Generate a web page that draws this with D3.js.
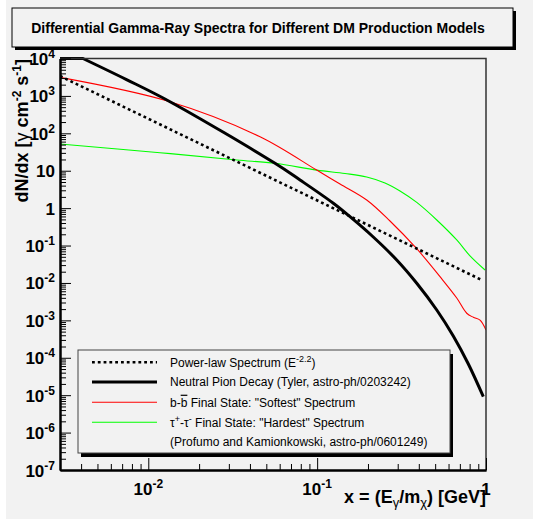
<!DOCTYPE html>
<html>
<head>
<meta charset="utf-8">
<script src="https://cdn.jsdelivr.net/npm/d3@7"></script>
<style>
  html, body { margin: 0; padding: 0; background: #ffffff; }
  svg { display: block; font-family: "Liberation Sans", Arial, Helvetica, sans-serif; }
</style>
</head>
<body>
<svg id="chart" width="533" height="519"></svg>
<script>
// ---- data (x = E_gamma / m_chi, y = dN/dx) ----
const powerLawX = [0.003, 0.943];
const powerLawY = [3400, 0.012];

const pionX = [0.003, 0.0041, 0.00743, 0.01345, 0.0563, 0.0792, 0.1247, 0.1565, 0.215, 0.296, 0.389, 0.511, 0.640, 0.786, 0.964];
const pionY = [20000, 10000, 2730, 700, 15.8, 5.65, 1.35, 0.59, 0.169, 0.0411, 0.0098, 0.00189, 3.82e-4, 6.8e-5, 9.1e-6];

const bbX = [0.003, 0.01345, 0.0459, 0.0994, 0.1366, 0.1966, 0.270, 0.390, 0.534, 0.671, 0.769, 0.841, 0.922, 1.0];
const bbY = [3140, 700, 81, 10.4, 4.42, 1.65, 0.453, 0.081, 0.0147, 0.00396, 0.00155, 0.00121, 0.00102, 5.5e-4];

const tauX = [0.003, 0.01173, 0.0334, 0.0563, 0.0994, 0.1462, 0.1966, 0.2522, 0.3095, 0.389, 0.511, 0.671, 0.804, 0.987];
const tauY = [51.8, 30.3, 19.4, 15.8, 10.4, 8.43, 6.79, 4.70, 2.87, 1.42, 0.482, 0.141, 0.053, 0.0222];

const xDecades = [-2, -1, 0];
const yDecades = [-7, -6, -5, -4, -3, -2, -1, 0, 1, 2, 3, 4];
const minorMults = [2, 3, 4, 5, 6, 7, 8, 9];

const titleText = "Differential Gamma-Ray Spectra for Different DM Production Models";
const legendLabels = [
  ["Power-law Spectrum (E", {sup: "-2.2"}, ")"],
  ["Neutral Pion Decay (Tyler, astro-ph/0203242)"],
  ["b-", {bar: "b"}, " Final State: \"Softest\" Spectrum"],
  ["\u03C4", {sup: "+"}, "-\u03C4", {sup: "-"}, " Final State: \"Hardest\" Spectrum"],
  ["(Profumo and Kamionkowski, astro-ph/0601249)"]
];

// ---- layout ----
const W = 533, H = 519;
const frame = {left: 60, right: 486, top: 58.5, bottom: 470};

const svg = d3.select("#chart");

// canvas background
svg.append("rect").attr("x", 6).attr("y", 0).attr("width", W - 6).attr("height", H).attr("fill", "#f2f2f2");

const x = d3.scaleLog().domain([0.003, 1]).range([frame.left, frame.right]);
const y = d3.scaleLog().domain([1e-7, 1e4]).range([frame.bottom, frame.top]).clamp(true);

// title box with drop shadow
const tb = {x: 12, y: 8, w: 501, h: 39};
svg.append("rect").attr("x", tb.x + 3).attr("y", tb.y + 3).attr("width", tb.w).attr("height", tb.h).attr("fill", "#000");
svg.append("rect").attr("x", tb.x).attr("y", tb.y).attr("width", tb.w).attr("height", tb.h)
  .attr("fill", "#f2f2f2").attr("stroke", "#000").attr("stroke-width", 1);
svg.append("text").attr("x", 258).attr("y", 33).attr("text-anchor", "middle")
  .attr("font-size", 14).attr("font-weight", "bold").attr("fill", "#000").text(titleText);

// clip region for the curves
svg.append("clipPath").attr("id", "plotClip").append("rect")
  .attr("x", frame.left).attr("y", frame.top - 2)
  .attr("width", frame.right - frame.left).attr("height", frame.bottom - frame.top + 2);

const plot = svg.append("g").attr("clip-path", "url(#plotClip)");

const line = d3.line().x(d => x(d[0])).y(d => y(d[1])).curve(d3.curveCatmullRom.alpha(0.5));
const straight = d3.line().x(d => x(d[0])).y(d => y(d[1]));
const zip = (a, b) => a.map((v, i) => [v, b[i]]);

plot.append("path").datum(zip(tauX, tauY)).attr("d", line)
  .attr("fill", "none").attr("stroke", "#00ff00").attr("stroke-width", 1.1);
plot.append("path").datum(zip(bbX, bbY)).attr("d", line)
  .attr("fill", "none").attr("stroke", "#ff0000").attr("stroke-width", 1.1);
plot.append("path").datum(zip(powerLawX, powerLawY)).attr("d", straight)
  .attr("fill", "none").attr("stroke", "#000").attr("stroke-width", 2.6).attr("stroke-dasharray", "2.8,3");

// pion curve: the part above the frame runs along the top edge, the rest is smoothed
const pionPts = zip(pionX, pionY);
const pionPath = straight(pionPts.slice(0, 2)) + line(pionPts.slice(1)).replace(/^M/, "L");
plot.append("path").attr("d", pionPath)
  .attr("fill", "none").attr("stroke", "#000").attr("stroke-width", 3).attr("stroke-linejoin", "miter");

// frame top/right
svg.append("path")
  .attr("d", `M${frame.left},${frame.top}H${frame.right}V${frame.bottom}`)
  .attr("fill", "none").attr("stroke", "#333").attr("stroke-width", 1.5);

// ---- axes ----
const yMinor = [];
yDecades.forEach(e => { if (e < 4) minorMults.forEach(m => yMinor.push(m * Math.pow(10, e))); });
const yMajor = yDecades.map(e => Math.pow(10, e));

const xMinor = [];
[-3, -2, -1].forEach(e => minorMults.forEach(m => {
  const v = m * Math.pow(10, e);
  if (v >= 0.003 && v < 1) xMinor.push(v);
}));
const xMajor = xDecades.map(e => Math.pow(10, e));

function styleAxis(g) {
  g.selectAll("text").remove();
  g.selectAll("line").attr("stroke", "#000").attr("stroke-width", 1);
  g.select(".domain").attr("stroke", "#000").attr("stroke-width", 2);
}

svg.append("g").attr("transform", `translate(${frame.left},0)`)
  .call(d3.axisRight(y).tickValues(yMinor).tickSize(6).tickSizeOuter(0).tickFormat(""))
  .call(styleAxis);
svg.append("g").attr("transform", `translate(${frame.left},0)`)
  .call(d3.axisRight(y).tickValues(yMajor).tickSize(11).tickSizeOuter(0).tickFormat(""))
  .call(styleAxis);
svg.append("g").attr("transform", `translate(0,${frame.bottom})`)
  .call(d3.axisTop(x).tickValues(xMinor).tickSize(6).tickSizeOuter(0).tickFormat(""))
  .call(styleAxis);
svg.append("g").attr("transform", `translate(0,${frame.bottom})`)
  .call(d3.axisTop(x).tickValues(xMajor).tickSize(12).tickSizeOuter(0).tickFormat(""))
  .call(styleAxis);

// power-of-ten labels
function powLabel(sel, e) {
  if (e === 0) { sel.append("tspan").text("1"); return; }
  sel.append("tspan").text("10");
  if (e !== 1) sel.append("tspan").attr("font-size", 12).attr("dy", -7).text(String(e));
}

yDecades.forEach(e => {
  const t = svg.append("text").attr("x", 55).attr("y", y(Math.pow(10, e)) + 6.5)
    .attr("text-anchor", "end").attr("font-size", 17).attr("font-weight", "bold").attr("fill", "#000");
  powLabel(t, e);
});
xDecades.forEach(e => {
  const t = svg.append("text").attr("x", x(Math.pow(10, e))).attr("y", 495)
    .attr("text-anchor", "middle").attr("font-size", 17).attr("font-weight", "bold").attr("fill", "#000");
  powLabel(t, e);
});

// axis titles
const xt = svg.append("text").attr("x", frame.right).attr("y", 503).attr("text-anchor", "end")
  .attr("font-size", 18).attr("font-weight", "bold").attr("fill", "#000");
xt.append("tspan").text("x = (E");
xt.append("tspan").attr("font-size", 13).attr("dy", 4).attr("font-weight", "normal").text("\u03B3");
xt.append("tspan").attr("dy", -4).text("/m");
xt.append("tspan").attr("font-size", 13).attr("dy", 4).attr("font-weight", "normal").text("\u03C7");
xt.append("tspan").attr("dy", -4).text(") [GeV]");

const yt = svg.append("text").attr("transform", `translate(28,59) rotate(-90)`).attr("text-anchor", "end")
  .attr("font-size", 18).attr("font-weight", "bold").attr("fill", "#000");
yt.append("tspan").text("dN/dx [");
yt.append("tspan").attr("font-weight", "normal").text("\u03B3");
yt.append("tspan").text(" cm");
yt.append("tspan").attr("font-size", 12).attr("dy", -7).text("-2");
yt.append("tspan").attr("dy", 7).text(" s");
yt.append("tspan").attr("font-size", 12).attr("dy", -7).text("-1");
yt.append("tspan").attr("dy", 7).text("]");

// ---- legend ----
const lg = {x: 78, y: 350, w: 372, h: 103};
svg.append("rect").attr("x", lg.x + 3).attr("y", lg.y + 4).attr("width", lg.w).attr("height", lg.h).attr("fill", "#000");
svg.append("rect").attr("x", lg.x).attr("y", lg.y).attr("width", lg.w).attr("height", lg.h)
  .attr("fill", "#f2f2f2").attr("stroke", "#444").attr("stroke-width", 1);

const legendStyles = [
  {stroke: "#000", width: 2.6, dash: "2.8,3"},
  {stroke: "#000", width: 3, dash: null},
  {stroke: "#ff0000", width: 1.1, dash: null},
  {stroke: "#00ff00", width: 1.1, dash: null},
  null
];
const rowY = [362.3, 382, 402.3, 422.3, 442];

legendLabels.forEach((parts, i) => {
  const st = legendStyles[i];
  if (st) {
    svg.append("line").attr("x1", 92).attr("x2", 157).attr("y1", rowY[i]).attr("y2", rowY[i])
      .attr("stroke", st.stroke).attr("stroke-width", st.width).attr("stroke-dasharray", st.dash);
  }
  const t = svg.append("text").attr("x", 170).attr("y", rowY[i] + 4.4)
    .attr("font-size", 12).attr("fill", "#000");
  let shift = 0; // pending baseline restore after a superscript
  parts.forEach(p => {
    if (typeof p === "string") {
      t.append("tspan").attr("dy", shift || null).text(p);
      shift = 0;
    } else if (p.sup) {
      t.append("tspan").attr("font-size", 9).attr("dy", -5 + shift).text(p.sup);
      shift = 5;
    } else if (p.bar) {
      t.append("tspan").attr("dy", shift || null).style("text-decoration", "overline").text(p.bar);
      shift = 0;
    }
  });
});
</script>
</body>
</html>
